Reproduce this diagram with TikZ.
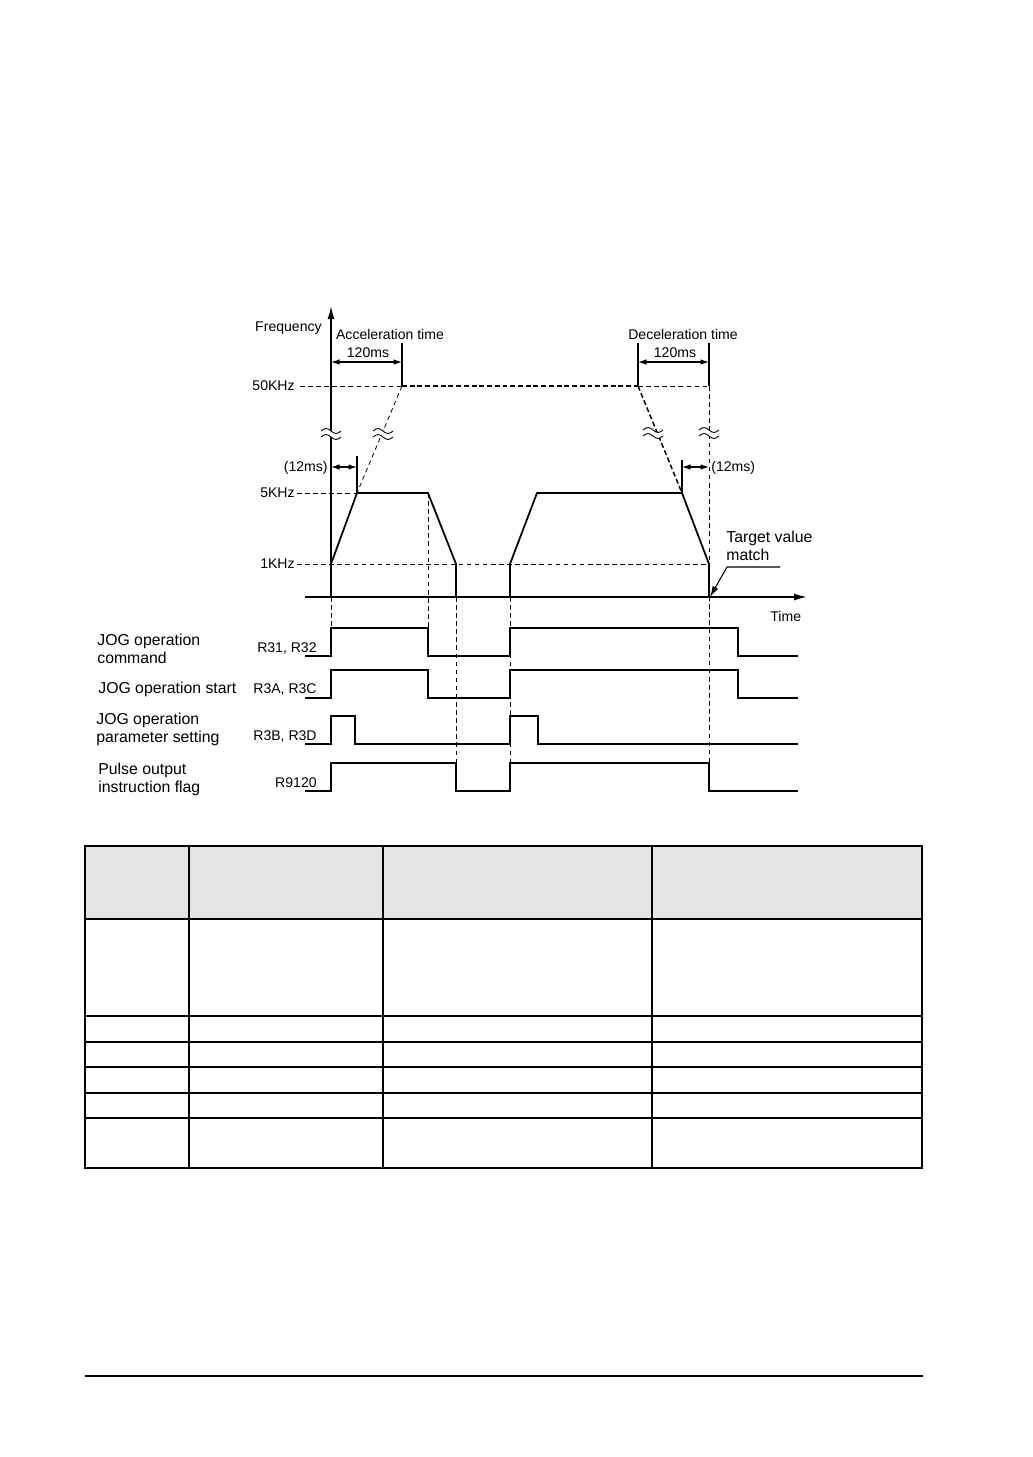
\documentclass[tikz,border=0pt]{standalone}
\usepackage{fontspec}
\setmainfont{Liberation Sans}
\usetikzlibrary{arrows.meta}

\begin{document}
\begin{tikzpicture}[
    x=0.02cm,y=-0.02cm,
    font=\fontsize{8}{10}\selectfont,
    >={Latex[length=1.7mm,width=1.1mm]},
    axis/.style={->,line width=0.85pt,>={Latex[length=2.6mm,width=1.4mm]}},
    freqline/.style={line width=1pt,line join=miter},
    sig/.style={line width=0.75pt},
    guide/.style={line width=0.45pt,dash pattern=on 2.6pt off 2pt},
    guidebold/.style={line width=0.85pt,dash pattern=on 2.8pt off 1.6pt},
    tick/.style={line width=0.6pt},
    dim/.style={<->,line width=0.6pt},
    lbl/.style={inner sep=0pt},
    biglbl/.style={lbl,font=\fontsize{9}{10}\selectfont,align=left},
    tblthick/.style={line width=1.2pt},
    tblthin/.style={line width=0.6pt},
    brk/.pic={
      \fill[white] (-10,-3) sin (-5,-5.5) cos (0,-3) sin (5,-0.5) cos (10,-3)
        -- (10,3) sin (5,5.5) cos (0,3) sin (-5,0.5) cos (-10,3) -- cycle;
      \draw[line width=0.5pt] (-10,-3) sin (-5,-5.5) cos (0,-3) sin (5,-0.5) cos (10,-3);
      \draw[line width=0.5pt] (-10,3) sin (-5,0.5) cos (0,3) sin (5,5.5) cos (10,3);
    }
  ]
  \useasboundingbox (0,0) rectangle (1033,1457);

  % frequency profile
  \draw[guide] (300,386) -- (402,386);
  \draw[guidebold] (402,386) -- (638,386);
  \draw[guide] (638,386) -- (709,386);
  \draw[guide] (297,493) -- (357,493);
  \draw[guide] (297,564) -- (709,564);
  \draw[guide] (402,386) -- (357,493);
  \draw[guidebold] (638,386) -- (682,493);
  \draw[guide] (709,386) -- (709,763);
  \draw[guide] (331,597) -- (331,628);
  \draw[guide] (428,493) -- (428,628);
  \draw[guide] (456,597) -- (456,763);
  \draw[guide] (510,597) -- (510,763);

  \draw[axis] (331,597) -- (331,306);
  \draw[axis] (305,597) -- (807,597);

  \draw[freqline] (331,597) -- (331,564) -- (357,493) -- (428,493) -- (456,564) -- (456,597);
  \draw[freqline] (510,597) -- (510,564) -- (537,493) -- (682,493) -- (709,564) -- (709,597);

  \pic at (331,434) {brk};
  \pic at (383,434) {brk};
  \pic at (653,433) {brk};
  \pic at (709,433) {brk};

  \node[lbl,anchor=base east] (freq) at (322,331) {Frequency};
  \node[lbl,anchor=base] (acc) at (390,339) {Acceleration time};
  \node[lbl,anchor=base] (acct) at (368,357) {120ms};
  \node[lbl,anchor=base] (dec) at (683,339) {Deceleration time};
  \node[lbl,anchor=base] (dect) at (675,357) {120ms};
  \node[lbl,anchor=base east] (f50) at (295,390) {50KHz};
  \node[lbl,anchor=base east] (f5) at (295,497) {5KHz};
  \node[lbl,anchor=base east] (f1) at (295,568) {1KHz};
  \node[lbl,anchor=base east] (t12a) at (328,471) {(12ms)};
  \node[lbl,anchor=base west] (t12d) at (711,471) {(12ms)};
  \node[biglbl,anchor=base west] (target) at (726,560) {Target value\\match};
  \node[lbl,anchor=base west] (time) at (770,621) {Time};

  % time dimensions
  \draw[tick] (402,343) -- (402,386);
  \draw[tick] (638,343) -- (638,386);
  \draw[tick] (709,343) -- (709,386);
  \draw[tick] (357,456) -- (357,493);
  \draw[tick] (682,460) -- (682,493);
  \draw[dim] (331,362) -- (402,362);
  \draw[dim] (638,362) -- (709,362);
  \draw[dim] (331,467) -- (357,467);
  \draw[dim] (682,467) -- (709,467);

  \draw[->,line width=0.6pt,>={Latex[length=2.2mm,width=1.3mm]}]
    (780,567) -- (727,567) -- (710,597);

  % signals
  \draw[sig] (305,656) -- (331,656) -- (331,628) -- (428,628) -- (428,656) -- (510,656)
    -- (510,628) -- (738,628) -- (738,656) -- (798,656);
  \draw[sig] (305,698) -- (331,698) -- (331,670) -- (428,670) -- (428,698) -- (510,698)
    -- (510,670) -- (738,670) -- (738,698) -- (798,698);
  \draw[sig] (305,744) -- (331,744) -- (331,716) -- (355,716) -- (355,744) -- (510,744)
    -- (510,716) -- (538,716) -- (538,744) -- (798,744);
  \draw[sig] (305,791) -- (331,791) -- (331,763) -- (456,763) -- (456,791) -- (510,791)
    -- (510,763) -- (709,763) -- (709,791) -- (798,791);

  \node[lbl,anchor=base east] (r31) at (317,652) {R31, R32};
  \node[lbl,anchor=base east] (r3a) at (317,693) {R3A, R3C};
  \node[lbl,anchor=base east] (r3b) at (317,740) {R3B, R3D};
  \node[lbl,anchor=base east] (r9120) at (317,787) {R9120};
  \node[biglbl,anchor=base west] (jogcmd) at (97,663) {JOG operation\\command};
  \node[biglbl,anchor=base west] (jogstart) at (98,693) {JOG operation start};
  \node[biglbl,anchor=base west] (jogpar) at (96,742) {JOG operation\\parameter setting};
  \node[biglbl,anchor=base west] (pulseflag) at (98,792) {Pulse output\\instruction flag};

  % table
  \fill[black!10] (85,846) rectangle (922,919);
  \foreach \y in {1016,1067,1118}
    \draw[tblthin] (85,\y) -- (922,\y);
  \draw[tblthin] (189,846) -- (189,1168);
  \foreach \y in {919,1042,1093}
    \draw[tblthick] (85,\y) -- (922,\y);
  \foreach \x in {383,652}
    \draw[tblthick] (\x,846) -- (\x,1168);
  \draw[tblthick] (85,846) rectangle (922,1168);

  \draw[line width=1.15pt] (85,1376) -- (923,1376);
\end{tikzpicture}
\end{document}
